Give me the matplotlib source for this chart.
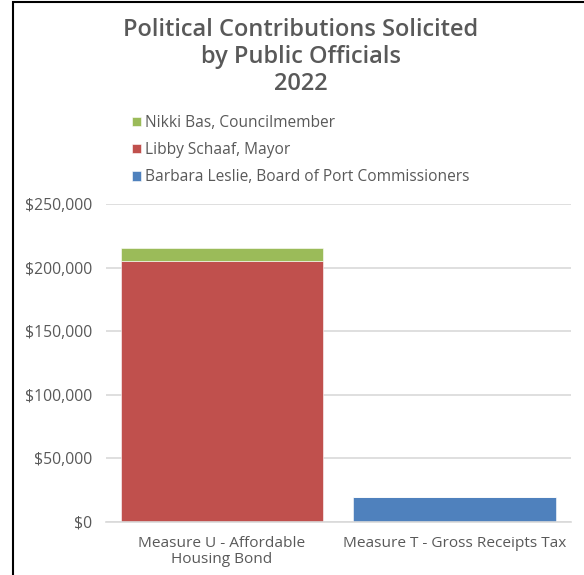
import matplotlib.pyplot as plt
from matplotlib.patches import Rectangle
from matplotlib.ticker import FuncFormatter
import numpy as np

plt.rcParams['font.family'] = ['Open Sans', 'DejaVu Sans']

categories = ['Measure U - Affordable\nHousing Bond', 'Measure T - Gross Receipts Tax']
leslie = [0, 19250]
schaaf = [205000, 0]
bas = [10000, 0]

series_names = ['Barbara Leslie, Board of Port Commissioners',
                'Libby Schaaf, Mayor',
                'Nikki Bas, Councilmember']
colors = ['#4F81BD', '#C0504D', '#9BBB59']

W, H = 584, 575
fig = plt.figure(figsize=(W / 100, H / 100), dpi=100)
text_gray = '#595959'

# plot area placed in pixel units
left, right, bottom, top = 105.7, 570.7, 521.7, 204
ax = fig.add_axes([left / W, 1 - bottom / H, (right - left) / W, (bottom - top) / H])

x = np.arange(len(categories))
width = 0.87
base = np.zeros(len(categories))
bars = []
for vals, name, c in zip([leslie, schaaf, bas], series_names, colors):
    b = ax.bar(x, vals, width, bottom=base, color=c, label=name,
               edgecolor='white', linewidth=0.4)
    bars.append(b)
    base = base + np.array(vals)

ax.set_xlim(-0.5, len(categories) - 0.5)
ax.set_ylim(0, 250000)
ax.set_yticks(np.arange(0, 250001, 50000))
ax.yaxis.set_major_formatter(FuncFormatter(lambda v, p: '${:,.0f}'.format(v)))
ax.set_xticks(x)
ax.set_xticklabels(categories, fontsize=11.1, color=text_gray, linespacing=1.1)
ax.tick_params(axis='y', labelsize=11.3, labelcolor=text_gray, length=0, pad=9.7)
ax.tick_params(axis='x', length=0, pad=10)
ax.grid(axis='y', color='#D9D9D9', linewidth=1.2)
ax.set_axisbelow(True)
for s in ['left', 'right', 'top']:
    ax.spines[s].set_visible(False)
ax.spines['bottom'].set_color('#D9D9D9')
ax.spines['bottom'].set_linewidth(1.2)

fig.text(301 / W, 1 - 18 / H,
         'Political Contributions Solicited\nby Public Officials\n2022',
         ha='center', va='top', fontsize=17, fontweight='semibold',
         color=text_gray, linespacing=1.16)

handles = [bars[2], bars[1], bars[0]]
labels = [series_names[2], series_names[1], series_names[0]]
fig.legend(handles, labels, loc='upper left',
           bbox_to_anchor=(118 / W, 1 - 101 / H), frameon=False,
           fontsize=11.2, labelcolor=text_gray, handlelength=0.55,
           handleheight=0.55, handletextpad=0.3, labelspacing=0.72)

# chart frame
fig.patches.append(Rectangle((13 / W, -0.1), 1.2, 0.1 + (H - 2) / H,
                             transform=fig.transFigure, fill=False,
                             edgecolor='black', linewidth=1.5))

fig.savefig('out.png', dpi=100)
